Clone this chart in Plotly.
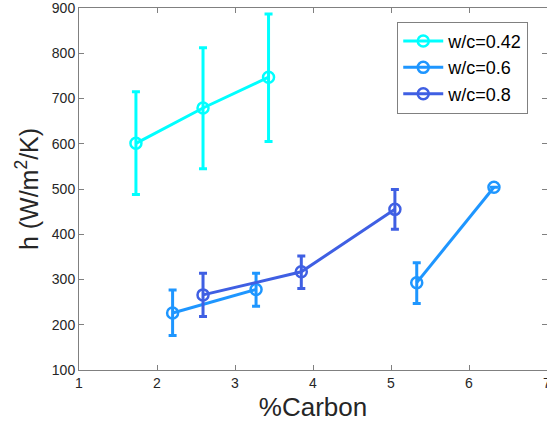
import plotly.graph_objects as go

labels = ["w/c=0.42", "w/c=0.6", "w/c=0.8"]
colors = ["#00FFFF", "#1E96FF", "#3F5FE3"]

x042 = [1.73, 2.59, 3.43]
y042 = [601, 679, 747]
e042_up = [114, 133, 140]
e042_dn = [113, 134, 142]

# gap (None) between the two w/c=0.6 segments, as in the original
x06 = [2.20, 3.27, 4.30, 5.33, 6.32]
y06 = [226, 278, None, 293, 504]
e06_up = [51, 36, 0, 44, 0]
e06_dn = [50, 37, 0, 46, 0]

x08 = [2.59, 3.85, 5.05]
y08 = [266, 317, 455]
e08_up = [48, 35, 44]
e08_dn = [48, 37, 44]

series = [(x042, y042, e042_up, e042_dn), (x06, y06, e06_up, e06_dn), (x08, y08, e08_up, e08_dn)]

fig = go.Figure()
for (xs, ys, eu, ed), name, c in zip(series, labels, colors):
    fig.add_trace(go.Scatter(
        x=xs, y=ys, name=name, mode="lines+markers", connectgaps=False,
        line=dict(color=c, width=3),
        marker=dict(symbol="circle-open", size=11, color=c, line=dict(width=2.5, color=c)),
        error_y=dict(type="data", symmetric=False, array=eu, arrayminus=ed,
                     color=c, thickness=3, width=4),
    ))

axis_common = dict(
    showline=True, linecolor="#808080", linewidth=1, mirror="ticks",
    ticks="inside", ticklen=5, tickcolor="#808080",
    showgrid=False, zeroline=False, automargin=False, ticklabeloverflow="allow",
    tickfont=dict(family="Liberation Sans, Arial", size=14, color="#262626"),
)

fig.update_xaxes(range=[1, 7], dtick=1, **axis_common,
                 title=dict(text="%Carbon", standoff=8,
                            font=dict(family="Liberation Sans, Arial", size=26, color="#262626")))
fig.update_yaxes(range=[100, 900], dtick=100, **axis_common,
                 title=dict(text="h (W/m<sup>2</sup>/K)", standoff=6,
                            font=dict(family="Liberation Sans, Arial", size=25, color="#262626")))

fig.update_layout(
    width=547, height=429,
    margin=dict(l=79, r=0, t=8, b=59),
    plot_bgcolor="white", paper_bgcolor="white",
    legend=dict(x=0.68, y=0.962, xanchor="left", yanchor="top",
                bgcolor="white", bordercolor="#808080", borderwidth=1,
                font=dict(family="Liberation Sans, Arial", size=18, color="#000000"),
                itemwidth=40, tracegroupgap=0),
    showlegend=True,
)

fig.write_html("out.html", config={"displayModeBar": False},
               post_script="document.body.style.margin='0';")
